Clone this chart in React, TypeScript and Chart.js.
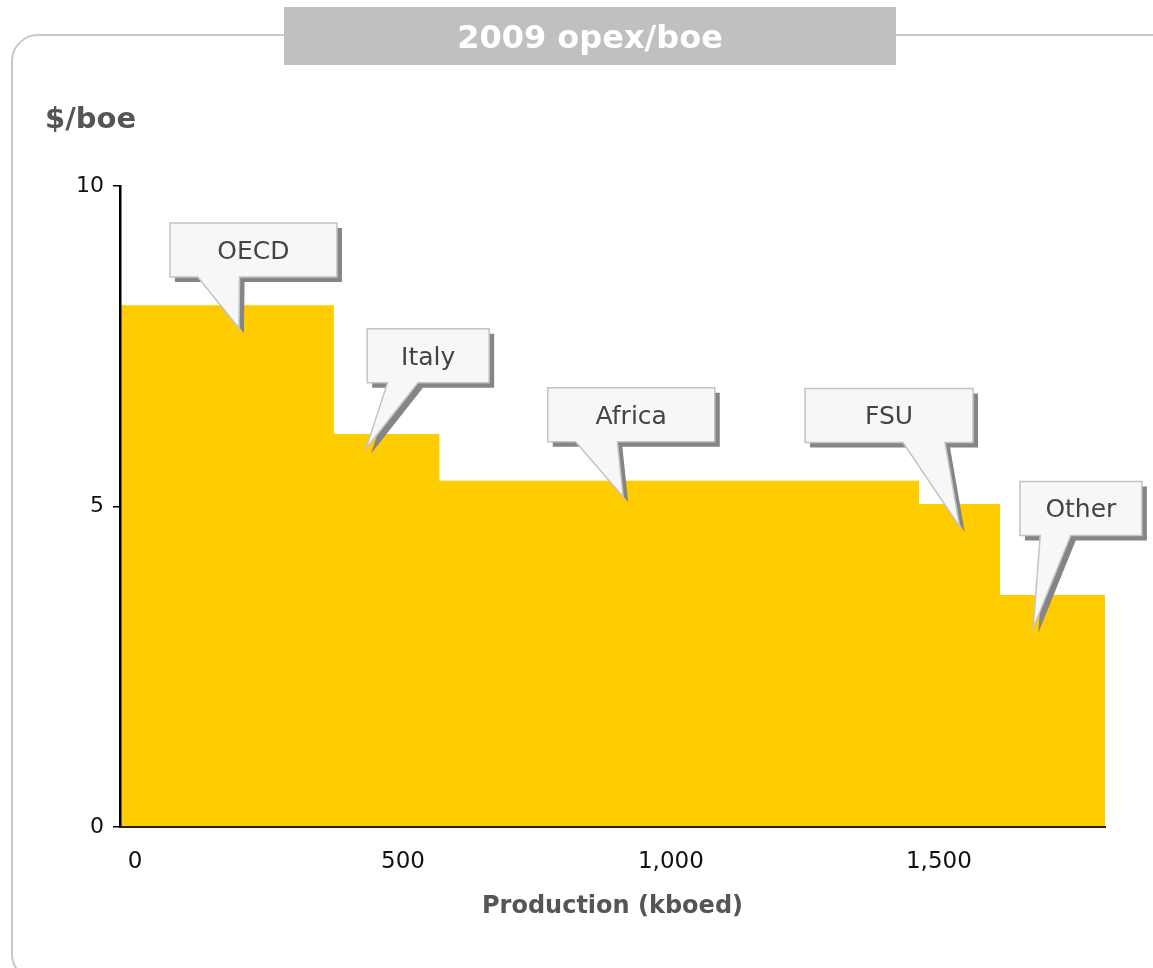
import { useEffect, useRef } from 'react';
import { Chart, registerables } from 'chart.js';

Chart.register(...registerables);

// ---- Data ----
const categories = ['OECD', 'Italy', 'Africa', 'FSU', 'Other'];
const productionStart = [0, 399, 596, 1491, 1642]; // kboed, cumulative start of each block
const productionEnd = 1838; // kboed, cumulative end of last block
const opexPerBoe = [8.14, 6.13, 5.4, 5.04, 3.62]; // $/boe
const xTickValues = [0, 500, 1000, 1500];
const yTickValues = [0, 5, 10];

// Callout anchors in data coordinates
const calloutTipX = [222, 459, 939, 1567, 1704];
const calloutTipY = [7.78, 5.9, 5.15, 4.68, 3.1];
const calloutBoxX = [249, 575, 954, 1435, 1793];
const calloutBoxY = [9.0, 7.35, 6.43, 6.42, 4.97];

// ---- Styles ----
const FONT = '"DejaVu Sans", Verdana, sans-serif';
const BAR_COLOR = '#FFCC00';
const calloutBoxW = [167, 122, 167, 168, 122];
const CALLOUT_H = 54;

const fmt = (v: number) => String(v).replace(/\B(?=(\d{3})+(?!\d))/g, ',');

const decorPlugin = {
  id: 'decor',
  beforeDraw(chart: any) {
    const ctx = chart.ctx as CanvasRenderingContext2D;
    ctx.save();
    // rounded frame
    ctx.strokeStyle = '#c8c8c8';
    ctx.lineWidth = 2;
    ctx.beginPath();
    (ctx as any).roundRect(12, 35, 1165, 945, 26);
    ctx.stroke();
    // title box
    ctx.fillStyle = '#c0c0c0';
    ctx.fillRect(284, 7, 612, 58);
    ctx.fillStyle = '#ffffff';
    ctx.font = `bold 32px ${FONT}`;
    ctx.textAlign = 'center';
    ctx.textBaseline = 'alphabetic';
    ctx.fillText('2009 opex/boe', 590, 48);
    // unit label
    ctx.fillStyle = '#555555';
    ctx.font = `bold 29px ${FONT}`;
    ctx.textAlign = 'left';
    ctx.fillText('$/boe', 45, 128);
    ctx.restore();
  },
  afterDraw(chart: any) {
    const ctx = chart.ctx as CanvasRenderingContext2D;
    const xs = chart.scales.x;
    const ys = chart.scales.y;
    ctx.save();
    categories.forEach((label, i) => {
      const w = calloutBoxW[i];
      const h = CALLOUT_H;
      const cx = xs.getPixelForValue(calloutBoxX[i]);
      const cy = ys.getPixelForValue(calloutBoxY[i]);
      const tx = xs.getPixelForValue(calloutTipX[i]);
      const ty = ys.getPixelForValue(calloutTipY[i]);
      const left = cx - w / 2;
      const top = cy - h / 2;
      const right = left + w;
      const bottom = top + h;
      const leftBase = tx <= cx;
      const b0 = leftBase ? left + w / 6 : left + (w * 7) / 12;
      const b1 = leftBase ? left + (w * 5) / 12 : left + (w * 5) / 6;
      const path = (dx: number, dy: number) => {
        ctx.beginPath();
        ctx.moveTo(left + dx, top + dy);
        ctx.lineTo(right + dx, top + dy);
        ctx.lineTo(right + dx, bottom + dy);
        ctx.lineTo(b1 + dx, bottom + dy);
        ctx.lineTo(tx + dx, ty + dy);
        ctx.lineTo(b0 + dx, bottom + dy);
        ctx.lineTo(left + dx, bottom + dy);
        ctx.closePath();
      };
      // shadow
      path(5, 5);
      ctx.fillStyle = '#858585';
      ctx.fill();
      // body
      path(0, 0);
      ctx.fillStyle = '#f7f7f7';
      ctx.fill();
      ctx.strokeStyle = '#c3c3c3';
      ctx.lineWidth = 1.5;
      ctx.lineJoin = 'miter';
      ctx.stroke();
      // text
      ctx.fillStyle = '#444444';
      ctx.font = `25px ${FONT}`;
      ctx.textAlign = 'center';
      ctx.textBaseline = 'alphabetic';
      ctx.fillText(label, cx, cy + 9);
    });
    ctx.restore();
  },
};

export default function App() {
  const canvasRef = useRef<HTMLCanvasElement | null>(null);

  useEffect(() => {
    document.body.style.margin = '0';
    const canvas = canvasRef.current;
    if (!canvas) return;

    const points = productionStart.map((x, i) => ({ x, y: opexPerBoe[i] }));
    points.push({ x: productionEnd, y: opexPerBoe[opexPerBoe.length - 1] });

    const chart = new Chart(canvas, {
      type: 'line',
      data: {
        datasets: [
          {
            label: 'Opex',
            data: points,
            stepped: 'before',
            fill: 'origin',
            backgroundColor: BAR_COLOR,
            borderColor: 'rgba(0,0,0,0)',
            borderWidth: 1,
            pointRadius: 0,
            tension: 0,
          },
        ],
      },
      options: {
        responsive: false,
        animation: false,
        devicePixelRatio: 1,
        layout: { padding: { top: 186, right: 48, bottom: 0, left: 0 } },
        plugins: {
          legend: { display: false },
          tooltip: { enabled: false },
          title: { display: false },
        },
        scales: {
          x: {
            type: 'linear',
            min: 0,
            max: productionEnd,
            afterBuildTicks: (s: any) => {
              s.ticks = xTickValues.map((v) => ({ value: v }));
            },
            afterFit: (s: any) => {
              s.height = 141;
            },
            grid: { display: false },
            border: { display: true, color: '#222222', width: 2, z: 2 },
            ticks: {
              color: '#111111',
              font: { family: FONT, size: 23 },
              padding: 13,
              labelOffset: 15,
              maxRotation: 0,
              autoSkip: false,
              callback: (v: any) => fmt(Number(v)),
            },
            title: {
              display: true,
              text: 'Production (kboed)',
              color: '#555555',
              font: { family: FONT, size: 24, weight: 'bold' },
              padding: { top: 4, bottom: 47 },
            },
          },
          y: {
            type: 'linear',
            min: 0,
            max: 10,
            afterBuildTicks: (s: any) => {
              s.ticks = yTickValues.map((v) => ({ value: v }));
            },
            afterFit: (s: any) => {
              s.width = 120;
            },
            grid: {
              display: true,
              drawOnChartArea: false,
              drawTicks: true,
              tickLength: 7,
              color: '#000000',
              lineWidth: 1.5,
              z: 1,
            },
            border: { display: true, color: '#000000', width: 2.5, z: 2 },
            ticks: {
              color: '#111111',
              font: { family: FONT, size: 22 },
              padding: 9,
              callback: (v: any) => fmt(Number(v)),
            },
          },
        },
      },
      plugins: [decorPlugin],
    } as any);

    return () => {
      chart.destroy();
    };
  }, []);

  return (
    <div style={{ position: 'absolute', left: 0, top: 0, width: 1153, height: 968 }}>
      <canvas ref={canvasRef} width={1153} height={968} style={{ display: 'block' }} />
    </div>
  );
}
